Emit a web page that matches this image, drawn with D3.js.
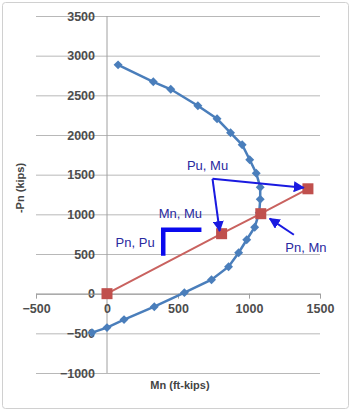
<!DOCTYPE html>
<html>
<head>
<meta charset="utf-8">
<script src="https://cdn.jsdelivr.net/npm/d3@7"></script>
<style>
  body { margin: 0; background: #fff; }
  svg { display: block; }
</style>
</head>
<body>
<svg id="drawing_region"></svg>
<script>
// interaction curve (blue diamonds)
const curveM = [78, 326, 449, 640, 775, 870, 952, 1005, 1051, 1079, 1079, 1072, 1040, 984, 927, 856, 736, 545, 333, 120, 0, -106];
const curveP = [2884, 2670, 2576, 2368, 2204, 2028, 1877, 1688, 1518, 1341, 1190, 1020, 838, 680, 516, 340, 176, 13, -164, -327, -428, -491];

// load line (red squares)
const loadM = [0, 807, 1083, 1415];
const loadP = [0, 756, 1008, 1322];

const xTicks = [-500, 0, 500, 1000, 1500];
const yTicks = [-1000, -500, 0, 500, 1000, 1500, 2000, 2500, 3000, 3500];

const xTitle = 'Mn (ft-kips)';
const yTitle = '-Pn (kips)';

const labels = ['Pu, Mu', 'Mn, Mu', 'Pn, Pu', 'Pn, Mn'];

class InteractionChart {

    constructor( config ){
        this.config = {
            parent: config.parent,
            width: config.width || 351,
            height: config.height || 411,
            margin: config.margin || {top:16, right:31, bottom:38, left:36}
        }
        this.init();
    }

    init(){
        let self = this;
        const c = self.config;

        self.svg = d3.select(c.parent)
            .attr('width', c.width)
            .attr('height', c.height);

        // frame
        self.svg.append('rect')
            .attr('x', 2.5).attr('y', 2.5)
            .attr('width', c.width - 5).attr('height', c.height - 5)
            .attr('rx', 3)
            .attr('fill', '#fff')
            .attr('stroke', '#d0d0d0');

        self.chart = self.svg.append('g')
            .attr('transform', `translate(${c.margin.left}, ${c.margin.top})`);

        self.inner_width = c.width - c.margin.left - c.margin.right;
        self.inner_height = c.height - c.margin.top - c.margin.bottom;

        self.xscale = d3.scaleLinear()
            .domain([-500, 1500])
            .range([0, self.inner_width]);

        self.yscale = d3.scaleLinear()
            .domain([-1000, 3500])
            .range([self.inner_height, 0]);
    }

    render(){
        let self = this;
        const x = self.xscale, y = self.yscale;
        const tickFont = 'Liberation Sans, Arial, sans-serif';
        const fmt = d3.format('d');

        // horizontal gridlines + y labels
        const yaxis = d3.axisLeft(y)
            .tickValues(yTicks)
            .tickFormat(fmt)
            .tickSize(-self.inner_width)
            .tickSizeOuter(0);
        const yg = self.chart.append('g').call(yaxis);
        yg.select('.domain').remove();
        yg.selectAll('.tick line').attr('stroke', '#b8b8b8').attr('stroke-width', 1);
        yg.selectAll('.tick text')
            .attr('x', x(0) - 12)
            .attr('text-anchor', 'end')
            .attr('font-family', tickFont)
            .attr('font-size', 12.5)
            .attr('font-weight', 'bold')
            .attr('fill', '#4d4d4d');
        yg.selectAll('.tick').filter(d => d === 0).select('line').attr('stroke', '#a0a0a0');

        // vertical axis line at M = 0
        self.chart.append('line')
            .attr('x1', x(0)).attr('x2', x(0))
            .attr('y1', y(3500)).attr('y2', y(-1000))
            .attr('stroke', '#a0a0a0');

        // x axis at P = 0
        const xaxis = d3.axisBottom(x)
            .tickValues(xTicks)
            .tickFormat(fmt)
            .tickSize(5)
            .tickSizeOuter(0)
            .tickPadding(5);
        const xg = self.chart.append('g')
            .attr('transform', `translate(0, ${y(0)})`)
            .call(xaxis);
        xg.select('.domain').attr('stroke', '#a0a0a0');
        xg.selectAll('.tick line').attr('stroke', '#a0a0a0');
        xg.selectAll('.tick text')
            .attr('font-family', tickFont)
            .attr('font-size', 12.5)
            .attr('font-weight', 'bold')
            .attr('fill', '#4d4d4d');

        // axis titles
        self.svg.append('text')
            .attr('transform', `translate(24, 188) rotate(-90)`)
            .attr('text-anchor', 'middle')
            .attr('font-family', tickFont)
            .attr('font-size', 11)
            .attr('font-weight', 'bold')
            .attr('fill', '#444')
            .text(yTitle);

        self.svg.append('text')
            .attr('x', 180).attr('y', 389)
            .attr('text-anchor', 'middle')
            .attr('font-family', tickFont)
            .attr('font-size', 11)
            .attr('font-weight', 'bold')
            .attr('fill', '#444')
            .text(xTitle);

        const line = d3.line().x(d => x(d[0])).y(d => y(d[1]));

        // blue interaction curve
        const curve = curveM.map((m, i) => [m, curveP[i]]);
        self.chart.append('path')
            .datum(curve)
            .attr('d', line)
            .attr('fill', 'none')
            .attr('stroke', '#4a7ebb')
            .attr('stroke-width', 2.5);
        self.chart.selectAll('.dia').data(curve).enter()
            .append('path')
            .attr('class', 'dia')
            .attr('d', d3.symbol(d3.symbolSquare, 40))
            .attr('transform', d => `translate(${x(d[0])}, ${y(d[1])}) rotate(45)`)
            .attr('fill', '#4a7ebb');

        // red load line
        const load = loadM.map((m, i) => [m, loadP[i]]);
        self.chart.append('path')
            .datum(load)
            .attr('d', line)
            .attr('fill', 'none')
            .attr('stroke', '#c9625f')
            .attr('stroke-width', 2);
        self.chart.selectAll('.sq').data(load).enter()
            .append('rect')
            .attr('class', 'sq')
            .attr('x', d => x(d[0]) - 5.5)
            .attr('y', d => y(d[1]) - 5.5)
            .attr('width', 11).attr('height', 11)
            .attr('fill', '#c0504d');

        // annotations
        const defs = self.svg.append('defs');
        defs.append('marker')
            .attr('id', 'arr')
            .attr('viewBox', '0 0 10 10')
            .attr('refX', 9).attr('refY', 5)
            .attr('markerWidth', 5.5).attr('markerHeight', 5.5)
            .attr('orient', 'auto')
            .append('path')
            .attr('d', 'M0,0 L10,5 L0,10 z')
            .attr('fill', '#1a1ae0');

        const ann = self.chart.append('g');
        const arrow = (m1, p1, m2, p2) => ann.append('line')
            .attr('x1', x(m1)).attr('y1', y(p1))
            .attr('x2', x(m2)).attr('y2', y(p2))
            .attr('stroke', '#1a1ae0')
            .attr('stroke-width', 2)
            .attr('marker-end', 'url(#arr)');

        arrow(743, 1448, 1385, 1336);
        arrow(743, 1448, 793, 790);
        arrow(1316, 743, 1146, 945);

        // thick bracket
        ann.append('path')
            .attr('d', `M${x(396)},${y(479)} L${x(396)},${y(806)} L${x(665)},${y(806)}`)
            .attr('fill', 'none')
            .attr('stroke', '#0a0aee')
            .attr('stroke-width', 4.5);

        const labelPos = [[708, 1612], [517, 1008], [198, 642], [1401, 579]];
        ann.selectAll('.lbl').data(labels).enter()
            .append('text')
            .attr('class', 'lbl')
            .attr('x', (d, i) => x(labelPos[i][0]))
            .attr('y', (d, i) => y(labelPos[i][1]))
            .attr('dy', '0.35em')
            .attr('text-anchor', 'middle')
            .attr('font-family', tickFont)
            .attr('font-size', 13)
            .attr('fill', '#2a2aa0')
            .text(d => d);
    }
}

const chart = new InteractionChart({ parent: '#drawing_region', width: 351, height: 411 });
chart.render();
</script>
</body>
</html>
